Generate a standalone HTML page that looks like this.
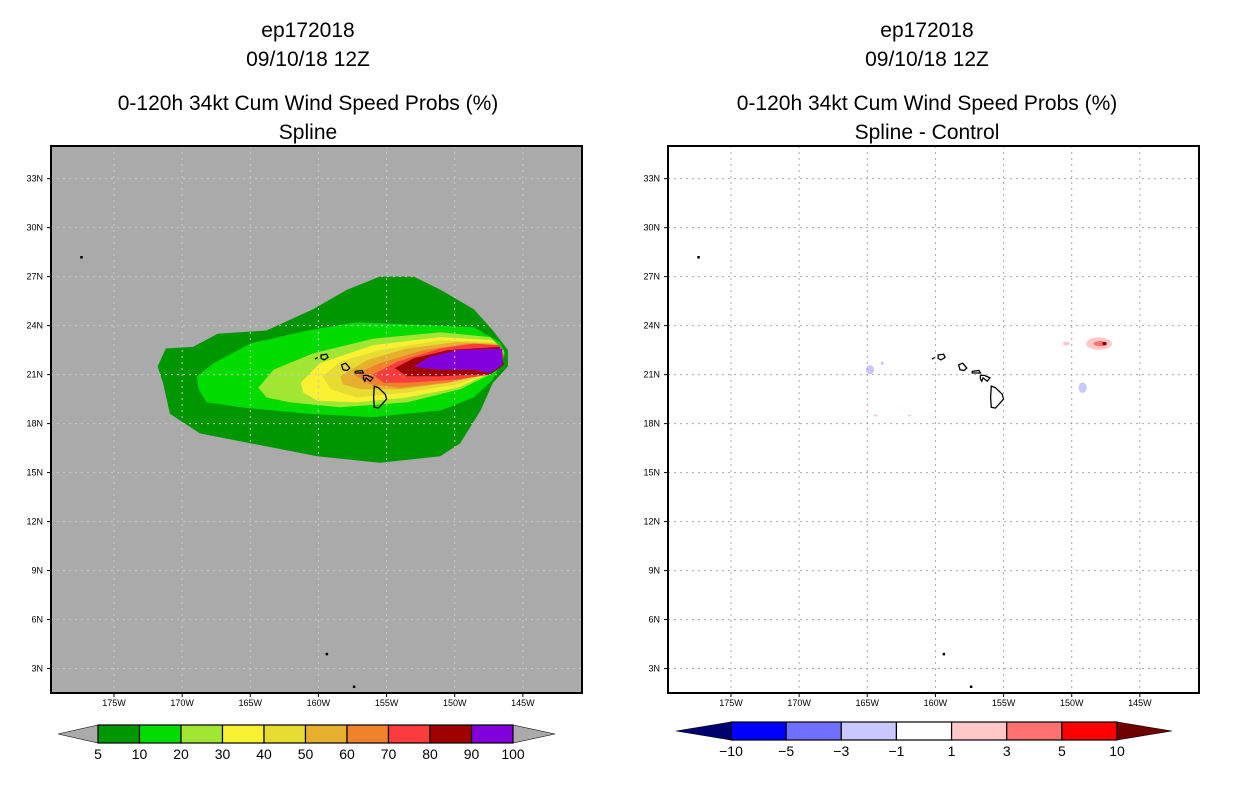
<!DOCTYPE html>
<html><head><meta charset="utf-8">
<style>
body{margin:0;background:#fff;}
svg{display:block;font-family:"Liberation Sans",sans-serif;}
.t{font-size:21px;text-anchor:middle;fill:#000;}
.ax{font-size:9px;fill:#000;}
.cb{font-size:14px;text-anchor:middle;fill:#000;}
</style></head><body>
<svg id="s" width="1236" height="800" viewBox="0 0 1236 800" xmlns="http://www.w3.org/2000/svg">
<text class="t" x="308" y="37">ep172018</text>
<text class="t" x="308" y="66">09/10/18 12Z</text>
<text class="t" x="308" y="110">0-120h 34kt Cum Wind Speed Probs (%)</text>
<text class="t" x="308" y="139">Spline</text>
<text class="t" x="927" y="37">ep172018</text>
<text class="t" x="927" y="66">09/10/18 12Z</text>
<text class="t" x="927" y="110">0-120h 34kt Cum Wind Speed Probs (%)</text>
<text class="t" x="927" y="139">Spline - Control</text>
</svg>
<script>
const NS="http://www.w3.org/2000/svg";
const svg=document.getElementById('s');
// ---- data ----
const probLevels=[5,10,20,30,40,50,60,70,80,90,100];
const probColors=["#009600","#00dc00","#a0e632","#faf032","#e6dc32","#e6af2d","#f0822d","#fa3c3c","#a00000","#8200dc"];
const diffLevels=[-10,-5,-3,-1,1,3,5,10];
const diffColors=["#00006e","#0000ff","#7070ff","#c8c8ff","#ffffff","#ffc8c8","#ff7070","#ff0000","#6e0000"];
const lonTicks=[175,170,165,160,155,150,145];
const latTicks=[33,30,27,24,21,18,15,12,9,6,3];
// contour polygons [lonW, latN] for each probability level
const c5=[[171.8,21.5],[171.2,22.6],[169.2,22.7],[167.4,23.5],[163.8,23.7],[160.4,25.0],[157.9,26.2],[155.5,27.0],[153.0,27.0],[151.05,26.2],[148.6,25.0],[147.2,23.7],[146.1,22.5],[146.1,21.5],[147.2,20.5],[148.1,18.8],[149.6,16.8],[151.05,16.0],[155.5,15.6],[160.1,16.0],[165.0,16.8],[168.7,17.4],[170.9,18.6],[171.4,20.5]];
const c10=[[168.9,20.9],[167.7,21.7],[165.0,22.9],[160.8,23.7],[157.2,24.2],[151.05,24.0],[148.6,23.9],[146.7,23.0],[146.3,22.3],[147.2,20.7],[148.6,19.6],[151.05,18.8],[156.0,18.4],[160.8,18.6],[165.7,19.0],[168.2,19.3],[168.8,20.1]];
const c20=[[164.4,20.2],[163.3,21.3],[160.4,22.3],[156.0,23.2],[151.05,23.6],[147.4,23.3],[146.4,22.5],[147.2,21.1],[149.6,20.1],[153.5,19.3],[158.4,19.0],[162.1,19.3],[163.8,19.6]];
const c30=[[161.3,20.5],[159.9,21.7],[156.0,22.8],[151.05,23.3],[147.2,23.1],[146.4,22.4],[147.4,21.1],[149.8,20.2],[153.5,19.6],[157.2,19.3],[160.1,19.4],[161.1,19.9]];
const c40=[[159.7,20.9],[158.4,21.8],[155.5,22.5],[151.05,23.1],[147.2,23.0],[146.4,22.3],[147.4,21.1],[149.8,20.4],[153.5,19.9],[157.2,19.6],[159.1,20.1]];
const c50=[[158.4,20.9],[156.4,21.9],[153.5,22.6],[149.8,23.0],[146.9,22.9],[146.4,22.2],[147.4,21.1],[150.5,20.5],[154.0,20.1],[156.9,20.1],[158.2,20.4]];
const c60=[[157.4,21.0],[155.5,21.7],[152.3,22.5],[149.1,22.9],[146.8,22.8],[146.4,22.1],[147.4,21.1],[150.5,20.5],[154.0,20.2],[156.2,20.4]];
const c70=[[156.0,21.0],[154.2,21.8],[151.05,22.6],[148.6,22.9],[146.7,22.8],[146.4,22.1],[147.4,21.0],[149.8,20.7],[153.5,20.5],[155.2,20.5]];
const c80=[[154.4,21.4],[153.0,22.0],[150.5,22.5],[146.7,22.7],[146.4,21.6],[147.4,21.0],[148.6,21.0],[151.05,20.9],[153.5,20.9]];
const c90=[[153.0,21.5],[151.8,22.1],[149.8,22.5],[146.5,22.6],[146.5,21.6],[147.4,21.1],[148.6,21.3],[151.05,21.3],[152.3,21.4]];
const probContours=[c5,c10,c20,c30,c40,c50,c60,c70,c80,c90];
// difference blobs: [lonW, latN, halfWidthDeg, halfHeightDeg, colorIndex]
const diffBlobs=[[148.0,22.9,0.95,0.38,5],[147.9,22.9,0.5,0.16,6],[147.6,22.9,0.15,0.1,8],[150.4,22.9,0.25,0.12,5],[164.8,21.3,0.3,0.28,3],[163.9,21.7,0.1,0.1,3],[149.2,20.2,0.3,0.32,3],[164.4,18.5,0.15,0.06,5],[161.9,18.5,0.12,0.05,5]];
// coastlines [lonW, latN]
const islands=[
 [[159.8,22.2],[159.4,22.25],[159.3,22.05],[159.6,21.9],[159.8,22.0]],
 [[160.25,21.95],[160.05,22.05]],
 [[158.3,21.6],[158.0,21.7],[157.7,21.4],[157.9,21.25],[158.2,21.3]],
 [[157.3,21.2],[156.8,21.25],[156.7,21.1],[157.3,21.1]],
 [[156.7,20.95],[156.4,20.95],[156.0,20.8],[156.2,20.6],[156.5,20.8],[156.6,20.6],[156.7,20.75]],
 [[155.9,20.3],[155.6,20.2],[155.1,19.8],[155.0,19.5],[155.6,18.95],[155.9,19.0],[155.95,19.6]]
];
const dots=[[177.4,28.2],[159.4,3.9],[157.4,1.9]];
// ---- geometry ----
const TOP=146,BOT=693,W=531;
const LON0=179.62,DPX=13.63,LAT0=35.0,DPY=16.33;
function X(left,lonW){return left+(LON0-lonW)*DPX;}
function Y(lat){return TOP+(LAT0-lat)*DPY;}
function el(tag,attrs,parent){const e=document.createElementNS(NS,tag);for(const k in attrs)e.setAttribute(k,attrs[k]);(parent||svg).appendChild(e);return e;}
function panel(left,isProb){
  const g=el('g',{});
  
  
  const defs=el('clipPath',{id:'clip'+left},g);
  el('rect',{x:left,y:TOP,width:W,height:BOT-TOP},defs);
  const bg=el('rect',{x:left,y:TOP,width:W,height:BOT-TOP,fill:isProb?'#aaaaaa':'#ffffff'},g);
  
  
  const cg=el('g',{'clip-path':'url(#clip'+left+')'},g);
  if(isProb){
    probContours.forEach((poly,i)=>{
      const p=el('polygon',{points:poly.map(q=>X(left,q[0]).toFixed(1)+','+Y(q[1]).toFixed(1)).join(' '),fill:probColors[i]},cg);
      
      
    });
  } else {
    diffBlobs.forEach(b=>{
      const e=el('ellipse',{cx:X(left,b[0]),cy:Y(b[1]),rx:b[2]*DPX,ry:b[3]*DPY,fill:diffColors[b[4]]},cg);
      
      
    });
  }
  const gc=isProb?'#c8c8c8':'#aaaaaa';
  lonTicks.forEach(l=>{const x=X(left,l);
    const ln=el('line',{x1:x,x2:x,y1:TOP,y2:BOT,stroke:gc,'stroke-width':1,'stroke-dasharray':'2,4'},cg);
    
    
    el('line',{x1:x,x2:x,y1:BOT,y2:BOT+4,stroke:'#000'},g);
    const t=el('text',{x:x,y:BOT+13,class:'ax','text-anchor':'middle'},g);t.textContent=l+'W';
    
    
  });
  latTicks.forEach(l=>{const y=Y(l);
    const ln=el('line',{x1:left,x2:left+W,y1:y,y2:y,stroke:gc,'stroke-width':1,'stroke-dasharray':'2,4'},cg);
    
    
    el('line',{x1:left-4,x2:left,y1:y,y2:y,stroke:'#000'},g);
    const t=el('text',{x:left-8,y:y+3,class:'ax','text-anchor':'end'},g);t.textContent=l+'N';
    
    
  });
  islands.forEach(is=>{
    const p=el(is.length>2?'polygon':'polyline',{points:is.map(q=>X(left,q[0]).toFixed(1)+','+Y(q[1]).toFixed(1)).join(' '),fill:'none',stroke:'#000','stroke-width':1.3},cg);
    
    
  });
  dots.forEach(d=>{
    const r=el('rect',{x:X(left,d[0])-1,y:Y(d[1])-1,width:2.5,height:2.5,fill:'#000'},cg);
    
    
  });
  const fr=el('rect',{x:left,y:TOP,width:W,height:BOT-TOP,fill:'none',stroke:'#000','stroke-width':2},g);
  
  
}
panel(51,true);
panel(668,false);
// ---- colorbars ----
function colorbar(x0,x1,tipL,tipR,y0,y1,colors,labels,name,firstLabelAtStart){
  const g=el('g',{});
  
  
  const inner=colors.slice(1,colors.length-1);
  const n=inner.length, w=(x1-x0)/n, ym=(y0+y1)/2;
  el('polygon',{points:`${tipL},${ym} ${x0},${y0} ${x0},${y1}`,fill:colors[0],stroke:'#000','stroke-width':0.6},g);
  el('polygon',{points:`${tipR},${ym} ${x1},${y0} ${x1},${y1}`,fill:colors[colors.length-1],stroke:'#000','stroke-width':0.6},g);
  inner.forEach((c,i)=>{
    const r=el('rect',{x:x0+i*w,y:y0,width:w,height:y1-y0,fill:c,stroke:'#000','stroke-width':1.2},g);
    
    
  });
  labels.forEach((l,i)=>{
    const x=firstLabelAtStart? x0+i*w : x0+i*w;
    const t=el('text',{x:x,y:y1+16,class:'cb'},g);t.textContent=String(l).replace('-','\u2212');
    
    
  });
}
colorbar(98,513,58,555,725,743,["#aaaaaa"].concat(probColors,["#aaaaaa"]),probLevels,'prob-colorbar',true);
colorbar(731,1117,676,1172,722,740,diffColors,diffLevels,'diff-colorbar',true);
</script>
</body></html>
